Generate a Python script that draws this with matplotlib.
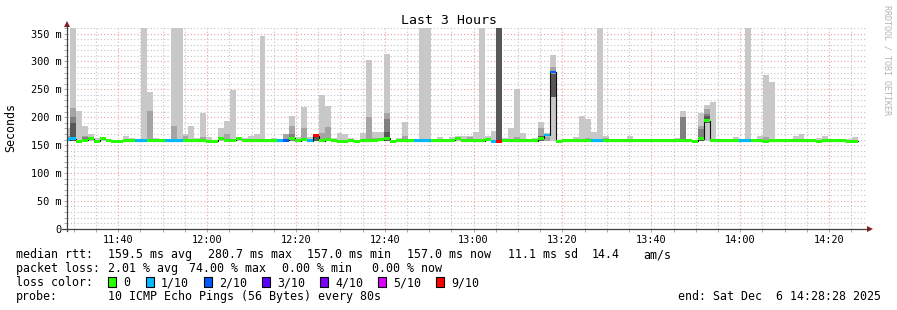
import numpy as np
import matplotlib
matplotlib.use('Agg')
import matplotlib.pyplot as plt
from matplotlib.patches import Rectangle
from matplotlib.ticker import FixedLocator, MultipleLocator

# -----------------------------------------------------------------------------
# data: one value per 80 s step (134 steps)
# -----------------------------------------------------------------------------
window_start = '11:28:28'
window_minutes = 180
step_seconds = 80
first_step_offset = -39          # s, first step begins just before the window

time_labels = ['11:40', '12:00', '12:20', '12:40', '13:00',
               '13:20', '13:40', '14:00', '14:20']
y_ticks_ms = [0, 50, 100, 150, 200, 250, 300, 350]
y_tick_labels = ['0', '50 m', '100 m', '150 m', '200 m', '250 m', '300 m', '350 m']

# median rtt per step [ms]
median_ms = [
    160, 161, 157, 159, 161, 157, 161, 159, 157, 157,
    158, 158, 158, 158, 159, 158, 158, 158, 158, 158,
    159, 158, 158, 158, 157, 157, 161, 159, 159, 161,
    158, 158, 158, 158, 158, 158, 158, 159, 162, 158,
    160, 158, 167, 158, 160, 158, 157, 157, 158, 157,
    158, 158, 159, 160, 162, 157, 158, 158, 158, 158,
    158, 158, 158, 158, 158, 159, 161, 158, 159, 158,
    158, 160, 157, 157, 159, 158, 158, 158, 158, 158,
    162, 168, 281, 157, 158, 158, 158, 158, 158, 158,
    158, 158, 158, 158, 158, 158, 158, 158, 158, 158,
    158, 158, 158, 158, 158, 158, 157, 161, 194, 158,
    158, 158, 158, 158, 158, 158, 158, 158, 157, 158,
    158, 158, 158, 158, 158, 158, 158, 157, 158, 158,
    158, 158, 157, 157,
]

# lost pings out of 10 per step
loss_count = [
    1, 1, 0, 0, 0, 0, 0, 0, 0, 0,
    0, 0, 1, 1, 0, 0, 0, 1, 1, 1,
    0, 0, 0, 0, 0, 0, 0, 0, 0, 0,
    0, 0, 0, 0, 0, 0, 1, 2, 0, 0,
    0, 1, 9, 0, 0, 0, 0, 0, 0, 0,
    0, 0, 0, 0, 0, 0, 0, 0, 0, 1,
    1, 1, 0, 0, 0, 0, 0, 0, 0, 0,
    0, 0, 1, 9, 0, 0, 0, 0, 0, 0,
    0, 1, 2, 0, 0, 0, 0, 0, 0, 1,
    1, 0, 0, 0, 0, 0, 0, 0, 0, 0,
    0, 0, 0, 0, 0, 0, 0, 0, 0, 0,
    0, 0, 0, 0, 1, 1, 0, 0, 0, 0,
    0, 0, 0, 0, 0, 0, 0, 0, 0, 0,
    0, 0, 0, 0,
]

# outer smoke (slowest ping) per step [ms], 0 = nothing above the median
smoke_outer = [
    180, 360, 212, 185, 169, 163, 165, 0, 0, 0,
    167, 163, 0, 360, 246, 163, 0, 0, 360, 360,
    170, 184, 162, 207, 165, 0, 181, 194, 248, 163,
    162, 167, 170, 346, 0, 162, 0, 169, 203, 164,
    218, 165, 0, 239, 220, 163, 172, 170, 163, 0,
    172, 302, 174, 174, 313, 0, 163, 191, 0, 0,
    360, 360, 0, 164, 0, 165, 166, 166, 167, 174,
    360, 167, 175, 0, 163, 180, 250, 171, 0, 163,
    192, 172, 312, 0, 0, 0, 165, 203, 196, 173,
    360, 166, 0, 0, 160, 167, 0, 0, 0, 0,
    0, 160, 0, 162, 212, 0, 0, 207, 221, 228,
    0, 160, 160, 165, 0, 360, 0, 167, 276, 263,
    0, 0, 0, 167, 170, 0, 0, 162, 167, 0,
    160, 0, 161, 164,
]

# inner smoke bands, {step: top ms}
smoke_mid = {0: 167, 1: 216, 3: 167, 14: 212, 18: 185, 20: 167, 23: 165,
             27: 169, 37: 169, 38: 185, 40: 180, 43: 172, 44: 183, 48: 161,
             51: 201, 52: 163, 54: 207, 57: 167, 68: 165, 76: 165, 80: 180,
             81: 165, 82: 290, 88: 163, 91: 163, 107: 185, 108: 214, 118: 165}
smoke_inner = {1: 201, 3: 165, 38: 169, 54: 196, 104: 200, 107: 178, 108: 206}
smoke_core = {1: 189, 42: 167, 54: 173, 73: 360, 80: 167, 82: 278,
              107: 165, 108: 203}
smoke_inner_low = {82: 236, 108: 189}    # inner bands that float above the floor
smoke_floor = 156.5

loss_colors = {0: '#26ff00', 1: '#00b8ff', 2: '#0059ff', 3: '#5e00ff',
               4: '#7e00ff', 5: '#dd00ff', 9: '#ff0000'}
legend_loss = [0, 1, 2, 3, 4, 5, 9]
legend_loss_labels = ['0', '1/10', '2/10', '3/10', '4/10', '5/10', '9/10']

# -----------------------------------------------------------------------------
W, H = 897, 310
MONO = 'DejaVu Sans Mono'


def to_min(hhmm):
    p = [int(v) for v in hhmm.split(':')]
    while len(p) < 3:
        p.append(0)
    return p[0] * 60 + p[1] + p[2] / 60.0


def fx(px):
    return px / W


def fy(py):
    return 1 - py / H


t0 = to_min(window_start)
n = len(median_ms)
edges = (first_step_offset + np.arange(n + 1) * step_seconds) / 60.0
left = edges[:-1]
width = step_seconds / 60.0
median = np.array(median_ms, dtype=float)

fig = plt.figure(figsize=(W / 100, H / 100), dpi=100)
ax = fig.add_axes([fx(67), fy(228.7), 799.6 / W, 200.7 / H])
ax.set_xlim(0, window_minutes)
ax.set_ylim(0, 360)

# grid
ax.xaxis.set_major_locator(FixedLocator([to_min(t) - t0 for t in time_labels]))
ax.xaxis.set_minor_locator(FixedLocator(np.arange(to_min('11:30') - t0, window_minutes, 5)))
ax.yaxis.set_major_locator(FixedLocator(y_ticks_ms))
ax.yaxis.set_minor_locator(MultipleLocator(10))
ax.set_xticklabels(time_labels, fontfamily=MONO, fontsize=7.4)
ax.set_yticklabels(y_tick_labels, fontfamily=MONO, fontsize=7.4)
ax.grid(which='major', color='#f0a0a0', ls=(0, (1, 2)), lw=0.8)
ax.grid(which='minor', color='#c4c4c4', ls=(0, (1, 2)), lw=0.8)
ax.set_axisbelow(True)
ax.tick_params(which='both', length=2, width=0.7, color='#aaaaaa', pad=2.2)
for s in ax.spines.values():
    s.set_visible(False)

# smoke
outer = np.array(smoke_outer, dtype=float)
m = outer > 0
ax.bar(left[m], outer[m] - smoke_floor, width, bottom=smoke_floor,
       align='edge', color='#c8c8c8', lw=0, zorder=2)
for band, col in [(smoke_mid, '#a4a4a4'), (smoke_inner, '#808080'),
                  (smoke_core, '#585858')]:
    idx = np.array(sorted(band))
    tops = np.array([band[i] for i in idx], dtype=float)
    lows = np.array([smoke_inner_low.get(i, smoke_floor) for i in idx], dtype=float)
    ax.bar(left[idx], tops - lows, width, bottom=lows, align='edge',
           color=col, lw=0, zorder=2)

# median: dark step line, then the loss coloured band
ax.step(edges, np.append(median, median[-1]), where='post',
        color='#101010', lw=0.8, zorder=3)
half = 2.6
ax.bar(left, 2 * half, width, bottom=median - half, align='edge',
       color=[loss_colors[c] for c in loss_count], lw=0, zorder=4)

# axes with arrows
axis_col = '#404040'
ax.plot([-0.006, 1.003], [0, 0], transform=ax.transAxes, color=axis_col,
        lw=0.9, clip_on=False, zorder=6)
ax.plot([0, 0], [-0.01, 1.01], transform=ax.transAxes, color=axis_col,
        lw=0.9, clip_on=False, zorder=6)
ax.plot([1.0045], [0], marker='>', ms=4, color='#7f1f1f', mew=0,
        transform=ax.transAxes, clip_on=False, zorder=7)
ax.plot([0], [1.022], marker='^', ms=4, color='#7f1f1f', mew=0,
        transform=ax.transAxes, clip_on=False, zorder=7)

# titles
fig.text(0.5, fy(24), 'Last 3 Hours', ha='center', va='baseline',
         fontfamily=MONO, fontsize=9.5)
fig.text(fx(11), fy(127), 'Seconds', rotation=90, ha='center', va='center',
         fontfamily=MONO, fontsize=8.4)
fig.text(fx(886.5), fy(60), 'RRDTOOL / TOBI OETIKER', rotation=270,
         ha='center', va='center', fontfamily=MONO, fontsize=6, color='#b4b4b4')


def legend_text(x, y, s, **kw):
    fig.text(fx(x), fy(y), s, ha=kw.pop('ha', 'left'), va='baseline',
             fontfamily=MONO, fontsize=8.4, **kw)


row1, row2, row3, row4 = 258, 272, 286, 300
legend_text(16, row1, 'median rtt:')
for x, s in [(107.5, '159.5 ms avg'), (207.5, '280.7 ms max'),
             (307, '157.0 ms min'), (407, '157.0 ms now'),
             (508, '11.1 ms sd'), (592, '14.4'), (643, 'am/s')]:
    legend_text(x, row1, s)

legend_text(16, row2, 'packet loss:')
for x, s in [(107.5, '2.01 % avg'), (189, '74.00 % max'),
             (282, '0.00 % min'), (372, '0.00 % now')]:
    legend_text(x, row2, s)

legend_text(16, row3, 'loss color:')
box_x = [108, 146, 204, 262, 320, 378, 436]
for bx, c, lab in zip(box_x, legend_loss, legend_loss_labels):
    fig.add_artist(Rectangle((fx(bx), fy(287)), 8 / W, 10 / H,
                             transform=fig.transFigure, facecolor=loss_colors[c],
                             edgecolor='black', lw=0.8))
    legend_text(bx + 15, row3, lab)

legend_text(16, row4, 'probe:')
legend_text(107.5, row4, '10 ICMP Echo Pings (56 Bytes) every 80s')
legend_text(881, row4, 'end: Sat Dec  6 14:28:28 2025', ha='right')

fig.savefig('out.png', dpi=100)
